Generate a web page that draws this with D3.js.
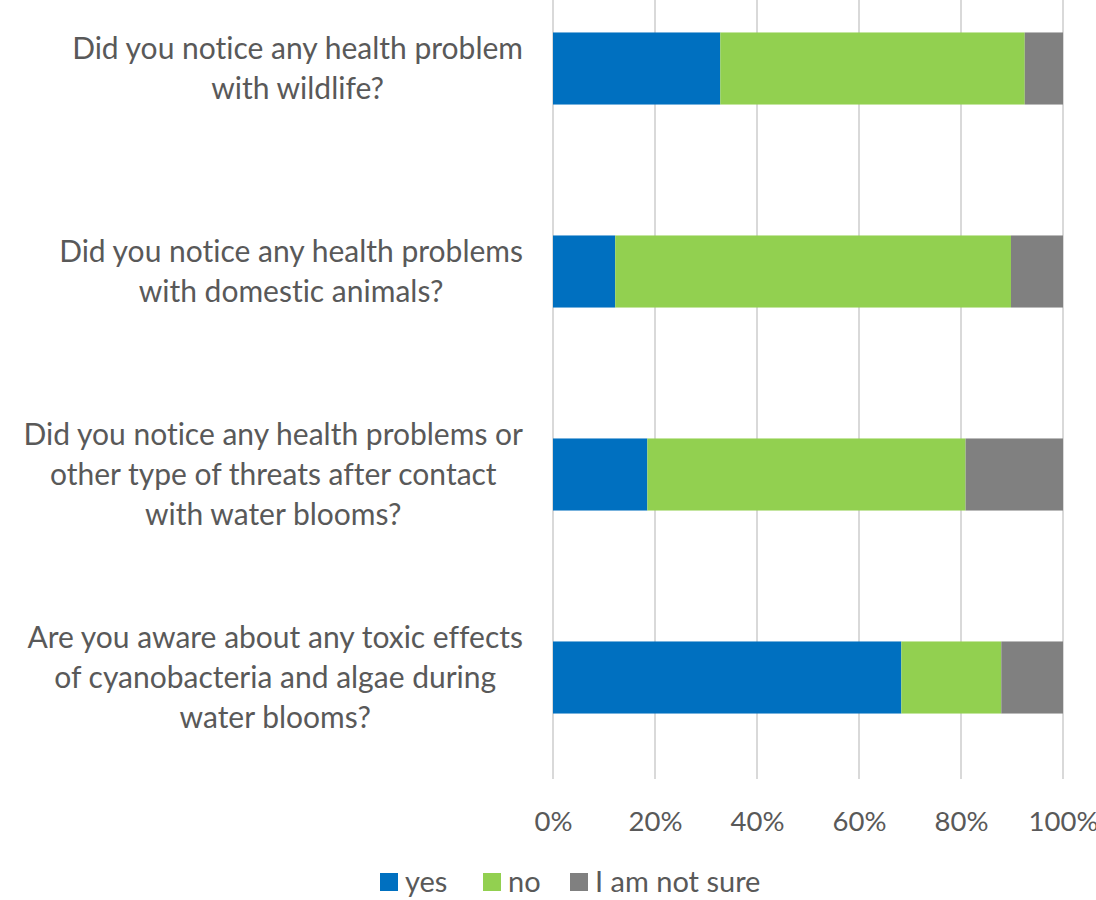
<!DOCTYPE html>
<html>
<head>
<meta charset="utf-8">
<script src="https://cdn.jsdelivr.net/npm/d3@7"></script>
<style>
  html, body { margin: 0; padding: 0; background: #fff; }
  svg { display: block; }
  text { font-family: Lato, "Open Sans", sans-serif; fill: #595959; font-variant-ligatures: none; }
</style>
</head>
<body>
<svg id="chart" width="1096" height="900"></svg>
<script>
// Survey questions (top to bottom), each split into its display lines
const questions = [
  ["Did you notice any health problem", "with wildlife?"],
  ["Did you notice any health problems", "with domestic animals?"],
  ["Did you notice any health problems or", "other type of threats after contact", "with water blooms?"],
  ["Are you aware about any toxic effects", "of cyanobacteria and algae during", "water blooms?"]
];
// Answer shares per question, in percent
const yesValues = [32.8, 12.2, 18.5, 68.3];
const noValues = [59.7, 77.6, 62.4, 19.6];
const notSureValues = [7.5, 10.2, 19.1, 12.1];

const seriesNames = ["yes", "no", "I am not sure"];
const seriesColors = ["#0070C0", "#92D050", "#808080"];
const tickValues = [0, 20, 40, 60, 80, 100];

const svg = d3.select("#chart");

const rows = questions.map((q, i) => ({
  key: "q" + i,
  lines: q,
  "yes": yesValues[i],
  "no": noValues[i],
  "I am not sure": notSureValues[i]
}));

const x = d3.scaleLinear().domain([0, 100]).range([553, 1063]);
const y = d3.scaleBand()
  .domain(rows.map(d => d.key))
  .range([-33, 779])
  .paddingInner(0.645)
  .paddingOuter(0.3225);

// Vertical gridlines
svg.append("g")
  .selectAll("line")
  .data(tickValues)
  .join("line")
  .attr("x1", d => x(d)).attr("x2", d => x(d))
  .attr("y1", 0).attr("y2", 779)
  .attr("stroke", "#d9d9d9")
  .attr("stroke-width", 2);

// Stacked bars
const stack = d3.stack().keys(seriesNames)(rows);
const color = d3.scaleOrdinal().domain(seriesNames).range(seriesColors);

svg.append("g")
  .selectAll("g")
  .data(stack)
  .join("g")
  .attr("fill", d => color(d.key))
  .selectAll("rect")
  .data(d => d)
  .join("rect")
  .attr("x", d => x(d[0]))
  .attr("width", d => x(d[1]) - x(d[0]))
  .attr("y", d => y(d.data.key))
  .attr("height", y.bandwidth());

// Percentage axis labels
const xAxis = svg.append("g")
  .attr("transform", "translate(0,779)")
  .call(d3.axisBottom(x).tickValues(tickValues).tickFormat(d => d + "%").tickSize(0).tickPadding(32));
xAxis.select(".domain").remove();
xAxis.selectAll("text")
  .style("font-family", "Lato, 'Open Sans', sans-serif")
  .style("font-size", "27.5px")
  .style("font-variant-ligatures", "none")
  .attr("fill", "#595959");

// Question labels: each block ends at the right edge of the label area,
// with its lines centred within the block
const lineH = 40;
const labelRight = 523;
const labelG = svg.append("g");
rows.forEach(r => {
  const cy = y(r.key) + y.bandwidth() / 2;
  const n = r.lines.length;
  const t = labelG.append("text")
    .attr("text-anchor", "middle")
    .style("font-size", "30px");
  const spans = r.lines.map((line, j) => t.append("tspan")
    .attr("y", cy + (j - (n - 1) / 2) * lineH)
    .attr("dy", "0.35em")
    .text(line));
  const maxW = d3.max(spans, s => s.node().getComputedTextLength());
  spans.forEach(s => s.attr("x", labelRight - maxW / 2));
});

// Legend
const legend = svg.append("g").attr("transform", "translate(0,882)");
const legendX = [380, 483, 570];
seriesNames.forEach((name, i) => {
  const g = legend.append("g").attr("transform", `translate(${legendX[i]},0)`);
  g.append("rect")
    .attr("x", 0).attr("y", -9)
    .attr("width", 18).attr("height", 18)
    .attr("fill", seriesColors[i]);
  g.append("text")
    .attr("x", 25).attr("y", 0).attr("dy", "0.35em")
    .style("font-size", "29px")
    .text(name);
});
</script>
</body>
</html>
